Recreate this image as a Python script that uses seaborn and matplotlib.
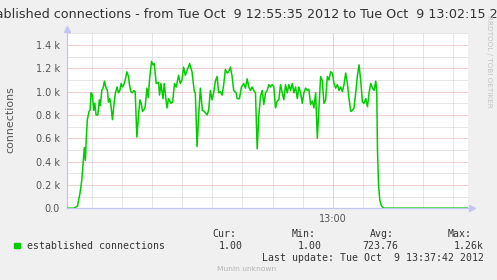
import numpy as np
import pandas as pd
import matplotlib
matplotlib.use("Agg")
import matplotlib.pyplot as plt
import matplotlib.dates as mdates
from matplotlib.patches import Rectangle
import seaborn as sns

# ---------------- data ----------------
seconds = [
    0, 7, 9, 10.5, 11.3, 13, 14.7, 16.3, 17.3, 18.3,
    19.3, 20.3, 22, 23, 24, 25.3, 26.7, 27.7, 29, 30.7,
    32.3, 33.3, 34.7, 36.3, 37.3, 38.7, 40.3, 41.3, 42.7, 44,
    45.3, 47, 48.3, 50, 51.3, 52.7, 54, 55.3, 56.7, 58,
    59.7, 61.3, 62.3, 63.7, 65.3, 66.7, 68, 69.7, 71.3, 72.7,
    74, 75.3, 77, 78, 79.7, 81, 82.3, 84.3, 85.7, 87,
    89, 91.3, 92.3, 93.7, 95.7, 97, 99.7, 101.3, 103.7, 105.3,
    107.3, 109, 111.3, 113, 114.7, 116.3, 118, 122.3, 124.7, 127,
    128, 129.7, 131.3, 133, 135, 137, 139.7, 141.3, 143, 144.7,
    146.3, 148, 149.7, 151.3, 153, 154.7, 156.3, 158, 159.7, 161.3,
    163, 164.7, 166.3, 168.7, 169.7, 172, 174, 176.3, 178, 179.7,
    181.3, 183, 184.7, 186.3, 188, 189.7, 191.3, 193, 194.7, 196.3,
    198, 199.7, 201.3, 203, 204.7, 206.3, 208, 209.7, 211.3, 213,
    214.7, 216.3, 218, 219.7, 221.3, 223, 224.7, 226.3, 228, 229.7,
    231.3, 233, 234.7, 236.3, 238, 239.7, 241.3, 243, 244.7, 246.3,
    248, 249.7, 251.3, 253, 254.7, 256.3, 258, 259.7, 261.3, 263,
    264.7, 266.3, 268, 269.7, 271.3, 273, 274.7, 276.3, 278, 279.7,
    281.3, 283, 284.7, 286.3, 288, 289.7, 291.3, 293, 294.7, 296.3,
    298, 299.7, 301.3, 303, 304.7, 306.3, 308, 309, 309.7, 310.7,
    312, 313.7, 316.3, 400,
]
connections = [
    1, 1, 12, 20, 60, 130, 240, 410, 520, 410,
    610, 760, 830, 840, 990, 970, 840, 900, 800, 800,
    930, 880, 1010, 1040, 1090, 1040, 1010, 910, 940, 870,
    760, 900, 990, 1040, 990, 1010, 1070, 1040, 1060, 1100,
    1170, 1130, 1060, 1000, 990, 1010, 1000, 610, 790, 930,
    900, 830, 850, 870, 1030, 950, 1100, 1260, 1230, 1240,
    1070, 1080, 970, 1070, 940, 1070, 860, 940, 900, 910,
    1070, 1040, 1140, 1070, 1100, 1210, 1140, 1240, 1170, 1000,
    990, 530, 790, 1030, 840, 830, 800, 840, 1010, 930,
    990, 1090, 1130, 990, 1000, 970, 1060, 1190, 1160, 1170,
    1210, 1130, 1010, 990, 940, 940, 1040, 1070, 1030, 1110,
    1040, 1010, 1040, 1010, 990, 510, 790, 960, 1010, 890,
    990, 1010, 1060, 1040, 1060, 1040, 860, 920, 930, 1060,
    990, 930, 1060, 990, 1060, 1010, 1070, 990, 1040, 940,
    1040, 990, 900, 990, 1030, 1010, 1020, 890, 920, 860,
    990, 600, 860, 1130, 1090, 900, 930, 1130, 1100, 1170,
    1160, 1070, 1030, 1060, 1010, 1040, 1000, 1060, 1160, 1070,
    940, 830, 840, 860, 990, 1140, 1230, 1090, 910, 900,
    940, 870, 990, 1070, 1030, 1010, 1090, 990, 500, 210,
    70, 20, 1, 1,
]

start_time = "2012-10-09 12:55:35"
end_time = "2012-10-09 13:02:15"
xtick_times = ["2012-10-09 13:00:00"]
xtick_labels = ["13:00"]
ytick_values = [0, 200, 400, 600, 800, 1000, 1200, 1400]
ytick_labels = ["0.0", "0.2 k", "0.4 k", "0.6 k", "0.8 k", "1.0 k", "1.2 k", "1.4 k"]
yminor_values = [100, 300, 500, 700, 900, 1100, 1300, 1500]

title = "established connections - from Tue Oct  9 12:55:35 2012 to Tue Oct  9 13:02:15 2012"
series_name = "established connections"
stat_names = ["Cur:", "Min:", "Avg:", "Max:"]
stat_values = ["1.00", "1.00", "723.76", "1.26k"]
last_update = "Last update: Tue Oct  9 13:37:42 2012"

# ---------------- plot ----------------
sns.set_theme(style="white")
plt.rcParams["font.family"] = ["DejaVu Sans"]

start = pd.Timestamp(start_time)
end = pd.Timestamp(end_time)
df = pd.DataFrame({
    "time": start + pd.to_timedelta(seconds, unit="s"),
    "connections": connections,
})

W, H = 497, 280
fig = plt.figure(figsize=(W / 100, H / 100), dpi=100, facecolor="#F0F0F0")
ax_l, ax_r, ax_t, ax_b = 67, 468, 33.3, 208.3
ax = fig.add_axes([ax_l / W, 1 - ax_b / H, (ax_r - ax_l) / W, (ax_b - ax_t) / H])
ax.set_facecolor("white")
ax.set_axisbelow(True)

sns.lineplot(data=df, x="time", y="connections", ax=ax, color="#00CC00",
             linewidth=1.1, zorder=5, legend=False)

ax.set_xlim(start, end)
ax.set_ylim(0, 1500)

# y grid
ax.set_yticks(ytick_values, labels=ytick_labels)
ax.set_yticks(yminor_values, minor=True)
# x grid
ax.set_xticks([mdates.date2num(pd.Timestamp(t)) for t in xtick_times], labels=xtick_labels)
ax.xaxis.set_minor_locator(mdates.SecondLocator(bysecond=[0, 30]))

dot = (0, (1, 1))
ax.grid(which="major", color="#e4a0a0", linestyle=dot, linewidth=0.72)
ax.grid(which="minor", color="#cfcfcf", linestyle=dot, linewidth=0.72)

ax.tick_params(axis="y", which="both", length=2, width=0.7, color="#a8a8a8",
               labelsize=7, labelcolor="#555555", pad=3)
ax.tick_params(axis="x", which="major", length=2, width=0.7, color="#e4a0a0",
               labelsize=7, labelcolor="#555555", pad=2)
ax.tick_params(axis="x", which="minor", length=0)
ax.set_xlabel("")
ax.set_ylabel("")

axis_col = "#c4c4f0"
for s in ["top", "right"]:
    ax.spines[s].set_visible(False)
for s in ["left", "bottom"]:
    ax.spines[s].set_color(axis_col)
    ax.spines[s].set_linewidth(0.9)

# axis arrows
ax.plot([0, 0], [1, 1 + 3 / 175], color=axis_col, lw=0.9, transform=ax.transAxes, clip_on=False)
ax.plot(0, 1 + 4 / 175, marker="^", ms=4, color=axis_col, mec=axis_col,
        transform=ax.transAxes, clip_on=False)
ax.plot([1, 1 + 3 / 401], [0, 0], color=axis_col, lw=0.9, transform=ax.transAxes, clip_on=False)
ax.plot(1 + 4 / 401, 0, marker=">", ms=4, color=axis_col, mec=axis_col,
        transform=ax.transAxes, clip_on=False)

# texts
fig.text(0.5, 1 - 14 / H, title, ha="center", va="center", fontsize=9.15, color="#333333")
fig.text(10.5 / W, 1 - 120 / H, "connections", rotation=90, ha="center", va="center",
         fontsize=7.9, color="#555555")
fig.text(488.5 / W, 1 - 61.5 / H, "RRDTOOL / TOBI OETIKER", rotation=270, ha="center",
         va="center", fontsize=5.2, color="#c4c4c4")

mono = "DejaVu Sans Mono"
fig.add_artist(Rectangle((14 / W, 1 - 247.7 / H), 6 / W, 5 / H,
                         transform=fig.transFigure, color="#00CC00"))
fig.text(26.7 / W, 1 - 245.7 / H, series_name, family=mono, fontsize=7.1,
         color="#333333", va="center", ha="left")
name_x = [212.7, 291.7, 370, 447.7]
val_x = [218.3, 297.3, 362.7, 453.3]
for nm, vv, nx, vx in zip(stat_names, stat_values, name_x, val_x):
    fig.text(nx / W, 1 - 234 / H, nm, family=mono, fontsize=7.1, color="#333333",
             va="center", ha="left")
    fig.text(vx / W, 1 - 245.7 / H, vv, family=mono, fontsize=7.1, color="#333333",
             va="center", ha="left")
fig.text(261.7 / W, 1 - 257.7 / H, last_update, family=mono, fontsize=7.1,
         color="#333333", va="center", ha="left")
fig.text(216.7 / W, 1 - 269 / H, "Munin unknown", fontsize=5.4, color="#b4b4b4",
         va="center", ha="left")

fig.savefig("out.png", dpi=100, facecolor=fig.get_facecolor())
